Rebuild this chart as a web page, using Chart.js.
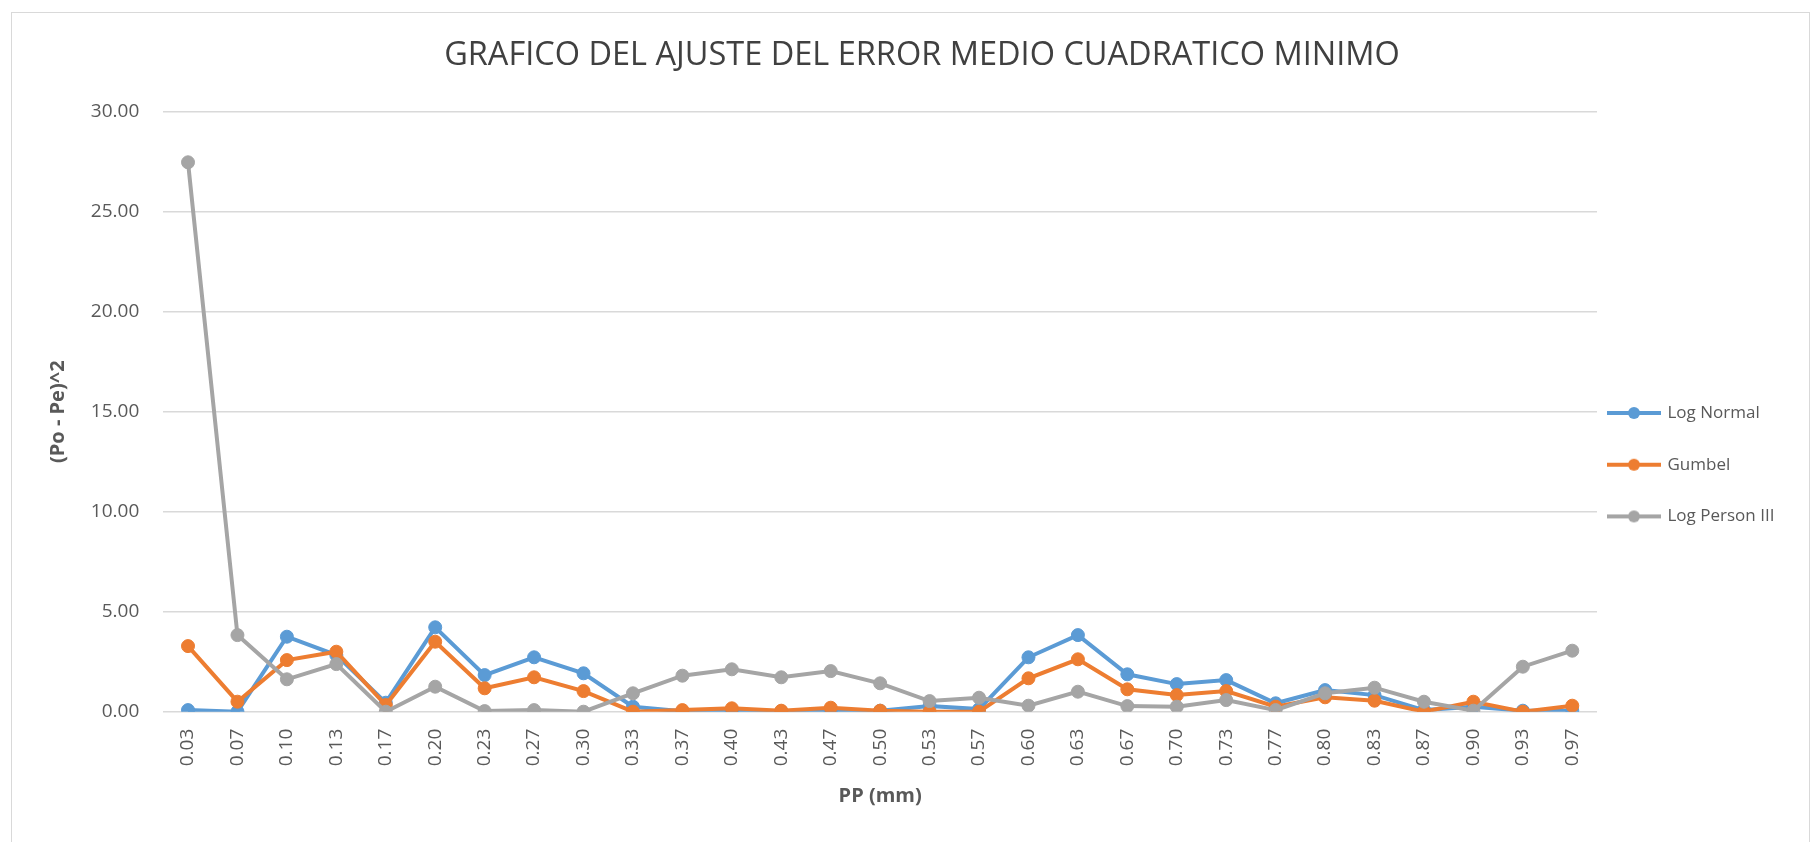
<!DOCTYPE html>
<html>
<head>
<meta charset="utf-8">
<script src="https://cdn.jsdelivr.net/npm/chart.js@4.4.1/dist/chart.umd.min.js"></script>
<style>
  body { margin: 0; background: #fff; }
  #frame { position: absolute; left: 11px; top: 12px; width: 1797px; height: 840px; border: 1px solid #d9d9d9; }
  #wrap { position: absolute; left: 0; top: 0; width: 1820px; height: 842px; }
</style>
</head>
<body>
<div id="frame"></div>
<div id="wrap"><canvas id="chart" width="1820" height="842"></canvas></div>
<script>
// categorias (PP)
const categories = ['0.03','0.07','0.10','0.13','0.17','0.20','0.23','0.27','0.30','0.33','0.37','0.40','0.43','0.47','0.50',
  '0.53','0.57','0.60','0.63','0.67','0.70','0.73','0.77','0.80','0.83','0.87','0.90','0.93','0.97'];

// (Po - Pe)^2 por distribucion
const logNormal = [0.08, 0.00, 3.75, 2.83, 0.45, 4.22, 1.83, 2.72, 1.92, 0.25, 0.02, 0.00, 0.02, 0.00, 0.05,
  0.28, 0.13, 2.72, 3.83, 1.87, 1.38, 1.58, 0.42, 1.08, 0.83, 0.08, 0.25, 0.05, 0.05];
const gumbel = [3.28, 0.50, 2.58, 3.00, 0.33, 3.50, 1.17, 1.72, 1.03, 0.00, 0.08, 0.17, 0.05, 0.20, 0.05,
  0.00, 0.00, 1.67, 2.62, 1.12, 0.83, 1.03, 0.25, 0.72, 0.55, 0.00, 0.50, 0.00, 0.30];
const logPerson = [27.47, 3.83, 1.62, 2.38, 0.00, 1.25, 0.03, 0.08, 0.00, 0.92, 1.80, 2.12, 1.72, 2.03, 1.42,
  0.53, 0.70, 0.30, 1.00, 0.28, 0.25, 0.58, 0.08, 0.92, 1.20, 0.50, 0.05, 2.25, 3.05];

const seriesNames = ['Log Normal', 'Gumbel', 'Log Person III'];
const seriesColors = ['#5B9BD5', '#ED7D31', '#A5A5A5'];
const yTicks = [0, 5, 10, 15, 20, 25, 30];

const FONT = "'Open Sans', 'Liberation Sans', sans-serif";

function legendMark(color) {
    const c = document.createElement('canvas');
    c.width = 54; c.height = 14;
    const g = c.getContext('2d');
    g.strokeStyle = color; g.lineWidth = 4;
    g.beginPath(); g.moveTo(0, 7); g.lineTo(54, 7); g.stroke();
    g.fillStyle = color;
    g.beginPath(); g.arc(27, 7, 6, 0, Math.PI * 2); g.fill();
    return c;
}

function makeSet(i, data, order) {
    return {
        label: seriesNames[i],
        data: data,
        borderColor: seriesColors[i],
        backgroundColor: seriesColors[i],
        borderWidth: 4,
        pointRadius: 6.5,
        pointBorderWidth: 1,
        pointBackgroundColor: seriesColors[i],
        pointBorderColor: seriesColors[i],
        tension: 0,
        order: order
    };
}

// coloca leyenda y titulo como en la hoja de Excel
const placeBoxes = {
    id: 'placeBoxes',
    afterLayout(chart) {
        const lg = chart.legend;
        const p = lg.options.labels.padding;
        const w = lg.width, h = lg.height;
        lg.left = 1609 - p;
        lg.top = 413 - 8.5 - p;
        lg.right = lg.left + w;
        lg.bottom = lg.top + h;

        const t = chart.titleBlock;
        t.left = 24;
        t.right = 1820;
        t.width = t.right - t.left;
    }
};

new Chart(document.getElementById('chart').getContext('2d'), {
    type: 'line',
    data: {
        labels: categories,
        datasets: [makeSet(0, logNormal, 2), makeSet(1, gumbel, 1), makeSet(2, logPerson, 0)]
    },
    options: {
        responsive: false,
        animation: false,
        layout: { padding: { left: 20, top: 0, right: 223, bottom: 20 } },
        plugins: {
            title: {
                display: true,
                text: 'GRAFICO DEL AJUSTE DEL ERROR MEDIO CUADRATICO MINIMO',
                color: '#404040',
                font: { family: FONT, size: 32.5, weight: 'normal' },
                padding: { top: 36.5, bottom: 36.2 }
            },
            legend: {
                display: true,
                position: 'chartArea',
                align: 'start',
                labels: {
                    color: '#595959',
                    font: { family: FONT, size: 17 },
                    padding: 34.7,
                    usePointStyle: true,
                    pointStyleWidth: 50,
                    generateLabels(chart) {
                        return chart.data.datasets.map((ds, i) => ({
                            text: ds.label,
                            fillStyle: ds.borderColor,
                            strokeStyle: ds.borderColor,
                            fontColor: '#595959',
                            lineWidth: 0,
                            pointStyle: legendMark(ds.borderColor),
                            datasetIndex: i,
                            hidden: false
                        }));
                    }
                }
            },
            tooltip: { enabled: false }
        },
        scales: {
            x: {
                offset: true,
                grid: { display: false, drawTicks: false },
                border: { display: false },
                ticks: {
                    color: '#595959',
                    font: { family: FONT, size: 19 },
                    minRotation: 90,
                    maxRotation: 90,
                    padding: 17,
                    autoSkip: false
                },
                title: {
                    display: true,
                    text: 'PP (mm)',
                    color: '#595959',
                    font: { family: FONT, size: 20, weight: 'bold' },
                    padding: { top: 0, bottom: 14 }
                },
                afterFit(scale) { scale.height = 110.3; }
            },
            y: {
                min: 0,
                max: 30,
                afterBuildTicks(scale) { scale.ticks = yTicks.map(v => ({ value: v })); },
                grid: { color: '#d9d9d9', lineWidth: 1.5, drawTicks: false },
                border: { display: false },
                ticks: {
                    color: '#595959',
                    font: { family: FONT, size: 19 },
                    padding: 24,
                    callback: v => Number(v).toFixed(2)
                },
                title: {
                    display: true,
                    text: '(Po - Pe)^2',
                    color: '#595959',
                    font: { family: FONT, size: 20, weight: 'bold' },
                    padding: { top: 26, bottom: 0 }
                },
                afterFit(scale) { scale.width = 143.3; }
            }
        }
    },
    plugins: [placeBoxes]
});
</script>
</body>
</html>
